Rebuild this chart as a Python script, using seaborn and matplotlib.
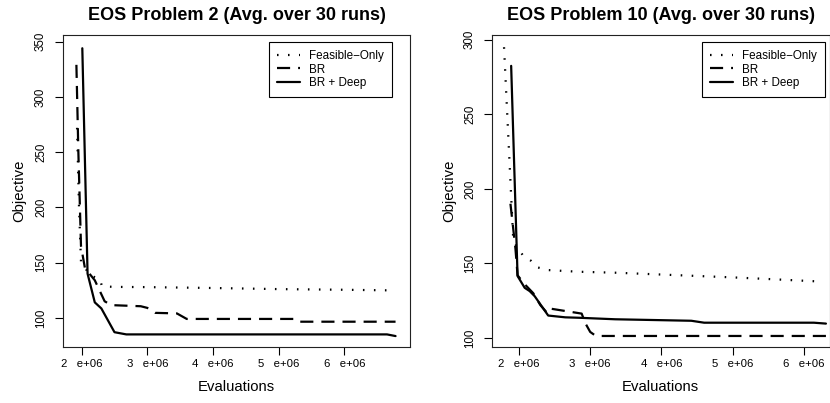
import seaborn as sns
import matplotlib.pyplot as plt
import pandas as pd

# EOS Problem 2 (evaluations in units of 1e6)
p2_feas_x = [1.93, 1.96, 1.99, 2.12, 2.28, 2.31, 2.5, 3.0, 4.0, 5.0, 6.0, 6.78]
p2_feas_y = [272, 200, 151, 139, 134.5, 128.5, 128, 127.8, 127, 126, 125.4, 124.8]
p2_br_x = [1.92, 1.95, 1.99, 2.05, 2.2, 2.35, 2.45, 2.9, 3.0, 3.12, 3.45, 3.6, 5.25, 5.3, 6.78]
p2_br_y = [329, 250, 165, 145, 134, 115, 111.5, 110.5, 109, 104.5, 104, 99, 99, 96.5, 96.5]
p2_deep_x = [2.01, 2.09, 2.2, 2.3, 2.5, 2.68, 6.65, 6.78]
p2_deep_y = [344, 140, 114, 108.5, 87, 85, 85, 83.5]

# EOS Problem 10
p10_feas_x = [1.79, 1.92, 2.06, 2.17, 2.26, 2.41, 2.83, 3.38, 4.0, 5.0, 5.5, 6.24]
p10_feas_y = [295, 165, 155, 151.7, 147.3, 145.5, 144.4, 143.7, 142.5, 140.6, 139.5, 137.8]
p10_br_x = [1.88, 1.95, 1.98, 2.08, 2.2, 2.3, 2.4, 2.46, 2.88, 2.93, 3.0, 3.08, 6.36]
p10_br_y = [190, 160, 142, 136, 130, 122, 116.5, 119.5, 116.3, 110, 104, 101.3, 101.3]
p10_deep_x = [1.89, 1.98, 2.08, 2.15, 2.22, 2.41, 2.65, 2.85, 3.35, 4.42, 4.6, 6.14, 6.31]
p10_deep_y = [282.5, 141.5, 133.6, 131.4, 128, 115, 113.8, 113.5, 112.5, 111.5, 110.2, 110.2, 109.6]

labels = ["Feasible\u2212Only", "BR", "BR + Deep"]
xticks = [2, 3, 4, 5, 6]
xticklabels = ["2   e+06", "3   e+06", "4   e+06", "5   e+06", "6   e+06"]

sns.set_style("ticks")
plt.rcParams["font.family"] = ["Liberation Sans", "DejaVu Sans"]
plt.rcParams["text.color"] = "black"
plt.rcParams["axes.labelcolor"] = "black"
plt.rcParams["xtick.color"] = "black"
plt.rcParams["ytick.color"] = "black"

styles = [(0, (0.7, 4.25)), (0, (5.9, 3.6)), "-"]

fig = plt.figure(figsize=(8.3, 4.03), dpi=100)
ax1 = fig.add_axes([63 / 830, 1 - 347 / 403, 347 / 830, 312 / 403])
ax2 = fig.add_axes([492 / 830, 1 - 347 / 403, 337.5 / 830, 312 / 403])


def draw_panel(ax, series, title, xlim, ylim, yticks, leg_x):
    for (xs, ys), lab, ls in zip(series, labels, styles):
        df = pd.DataFrame({"Evaluations": [v * 1e6 for v in xs], "Objective": ys})
        sns.lineplot(data=df, x="Evaluations", y="Objective", ax=ax, color="black",
                     linewidth=1.6, linestyle=ls, estimator=None, sort=False,
                     label=lab, dash_capstyle="butt")
    ax.set_xlim(xlim[0] * 1e6, xlim[1] * 1e6)
    ax.set_ylim(*ylim)
    ax.set_xticks([t * 1e6 for t in xticks])
    ax.set_xticklabels(xticklabels)
    ax.set_yticks(yticks)
    ax.set_yticklabels([str(t) for t in yticks], rotation=90, va="center")
    ax.tick_params(axis="x", length=6, width=0.8, pad=2.5, labelsize=8.2)
    ax.tick_params(axis="y", length=6, width=0.8, pad=5.5, labelsize=8.3)
    for sp in ax.spines.values():
        sp.set_visible(True)
        sp.set_color("#222222")
        sp.set_linewidth(0.8)
    ax.set_title(title, fontsize=13, fontweight="bold", pad=10.5)
    ax.set_xlabel("Evaluations", fontsize=10.7)
    ax.set_ylabel("Objective", fontsize=10.7)
    ax.xaxis.set_label_coords(0.5, -0.106)
    ax.yaxis.set_label_coords(-0.107, 0.5)
    leg = ax.legend(ax.get_lines(), labels, loc="upper right",
                    bbox_to_anchor=(leg_x, (347 - 42) / 312), borderaxespad=0,
                    fancybox=False, edgecolor="black", framealpha=1, fontsize=8.4,
                    handlelength=1.9, handletextpad=0.8, borderpad=0.7,
                    labelspacing=0.12)
    leg.get_frame().set_linewidth(0.8)


draw_panel(ax1, [(p2_feas_x, p2_feas_y), (p2_br_x, p2_br_y), (p2_deep_x, p2_deep_y)],
           "EOS Problem 2 (Avg. over 30 runs)", (1.716, 7.0), (73.6, 356),
           [100, 150, 200, 250, 300, 350], (392 - 63) / 347)
draw_panel(ax2, [(p10_feas_x, p10_feas_y), (p10_br_x, p10_br_y), (p10_deep_x, p10_deep_y)],
           "EOS Problem 10 (Avg. over 30 runs)", (1.621, 6.36), (93.9, 303.2),
           [100, 150, 200, 250, 300], (825 - 492) / 337.5)

fig.savefig("out.png", dpi=100)
